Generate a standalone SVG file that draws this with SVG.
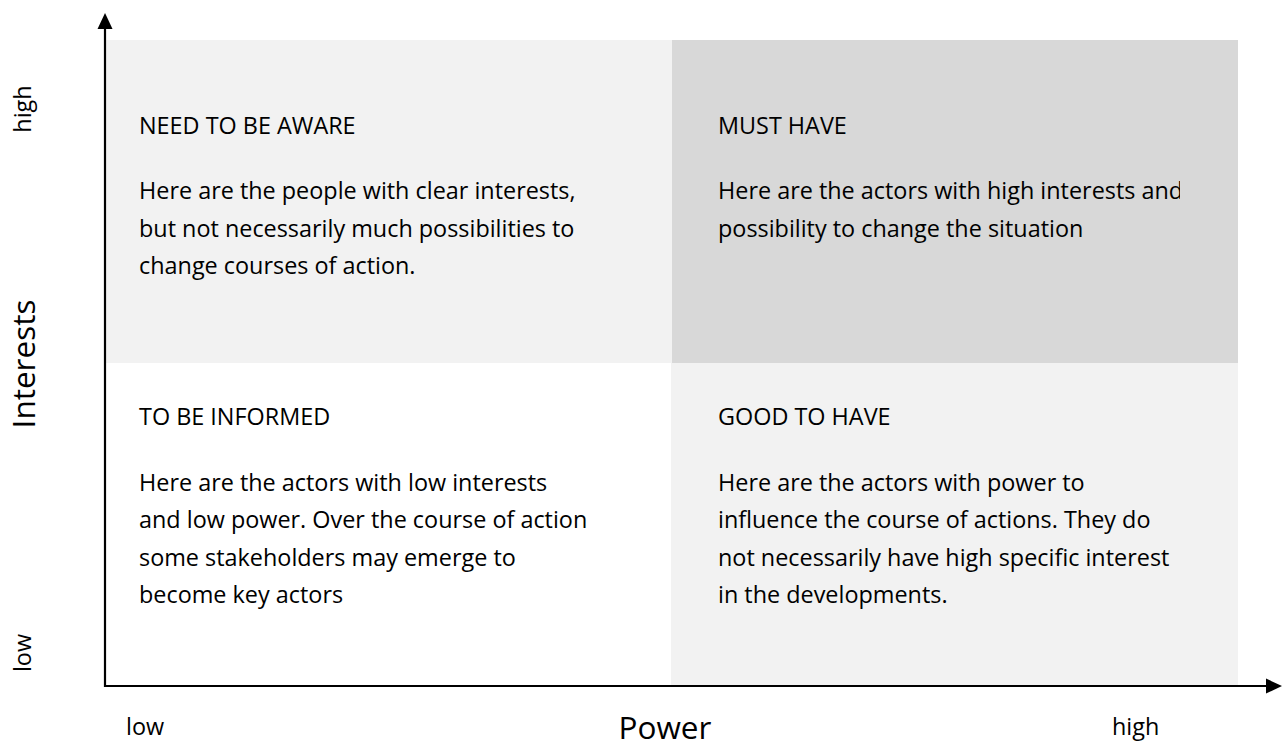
<svg xmlns="http://www.w3.org/2000/svg" width="1287" height="747" viewBox="0 0 1287 747">
  <style>
    text { font-family: "Open Sans", "Liberation Sans", sans-serif; fill: #000; }
    .t { font-size: 23.4px; }
    .big { font-size: 31.5px; }
    .light { fill: #f2f2f2; }
    .dark { fill: #d8d8d8; }
    .axis { stroke: #000; stroke-width: 2.2; fill: none; }
  </style>
  <defs>
    <marker id="arrow" markerUnits="userSpaceOnUse" markerWidth="16" markerHeight="16" viewBox="0 0 16 16" refX="1" refY="8" orient="auto">
      <path d="M0,0.5 L16,8 L0,15.5 Z" fill="#000"/>
    </marker>
    <!-- text frame of the upper-right quadrant cuts the long first line -->
    <clipPath id="clipTR">
      <rect x="672" y="40" width="508" height="323"/>
    </clipPath>
  </defs>

  <rect width="1287" height="747" fill="#fff"/>

  <!-- quadrant: high interests, low power -->
  <g id="need-to-be-aware">
    <rect class="light" x="106" y="40" width="566" height="323"/>
    <text class="t" x="139" y="134">NEED TO BE AWARE</text>
    <text class="t" x="139" y="199">Here are the people with clear interests,</text>
    <text class="t" x="139" y="237">but not necessarily much possibilities to</text>
    <text class="t" x="139" y="274">change courses of action.</text>
  </g>

  <!-- quadrant: high interests, high power -->
  <g id="must-have">
    <rect class="dark" x="672" y="40" width="566" height="323"/>
    <g clip-path="url(#clipTR)">
      <text class="t" x="718" y="134">MUST HAVE</text>
      <text class="t" x="718" y="199">Here are the actors with high interests and</text>
      <text class="t" x="718" y="237">possibility to change the situation</text>
    </g>
  </g>

  <!-- quadrant: low interests, low power -->
  <g id="to-be-informed">
    <text class="t" x="139" y="425">TO BE INFORMED</text>
    <text class="t" x="139" y="491">Here are the actors with low interests</text>
    <text class="t" x="139" y="528">and low power. Over the course of action</text>
    <text class="t" x="139" y="566">some stakeholders may emerge to</text>
    <text class="t" x="139" y="603">become key actors</text>
  </g>

  <!-- quadrant: low interests, high power -->
  <g id="good-to-have">
    <rect class="light" x="671" y="363" width="567" height="322"/>
    <text class="t" x="718" y="425">GOOD TO HAVE</text>
    <text class="t" x="718" y="491">Here are the actors with power to</text>
    <text class="t" x="718" y="528">influence the course of actions. They do</text>
    <text class="t" x="718" y="566">not necessarily have high specific interest</text>
    <text class="t" x="718" y="603">in the developments.</text>
  </g>

  <!-- axes -->
  <g id="connectors">
    <line class="axis" x1="105" y1="687" x2="105" y2="28" marker-end="url(#arrow)"/>
    <line class="axis" x1="104" y1="686" x2="1267" y2="686" marker-end="url(#arrow)"/>
  </g>

  <!-- axis labels -->
  <g id="axis-labels">
    <text class="t" text-anchor="middle" transform="translate(31,109) rotate(-90)">high</text>
    <text class="t" text-anchor="middle" transform="translate(31,653) rotate(-90)">low</text>
    <text class="big" text-anchor="middle" transform="translate(35,364) rotate(-90)">Interests</text>
    <text class="t" x="126" y="735">low</text>
    <text class="big" text-anchor="middle" x="665" y="739">Power</text>
    <text class="t" x="1112" y="735">high</text>
  </g>
</svg>
